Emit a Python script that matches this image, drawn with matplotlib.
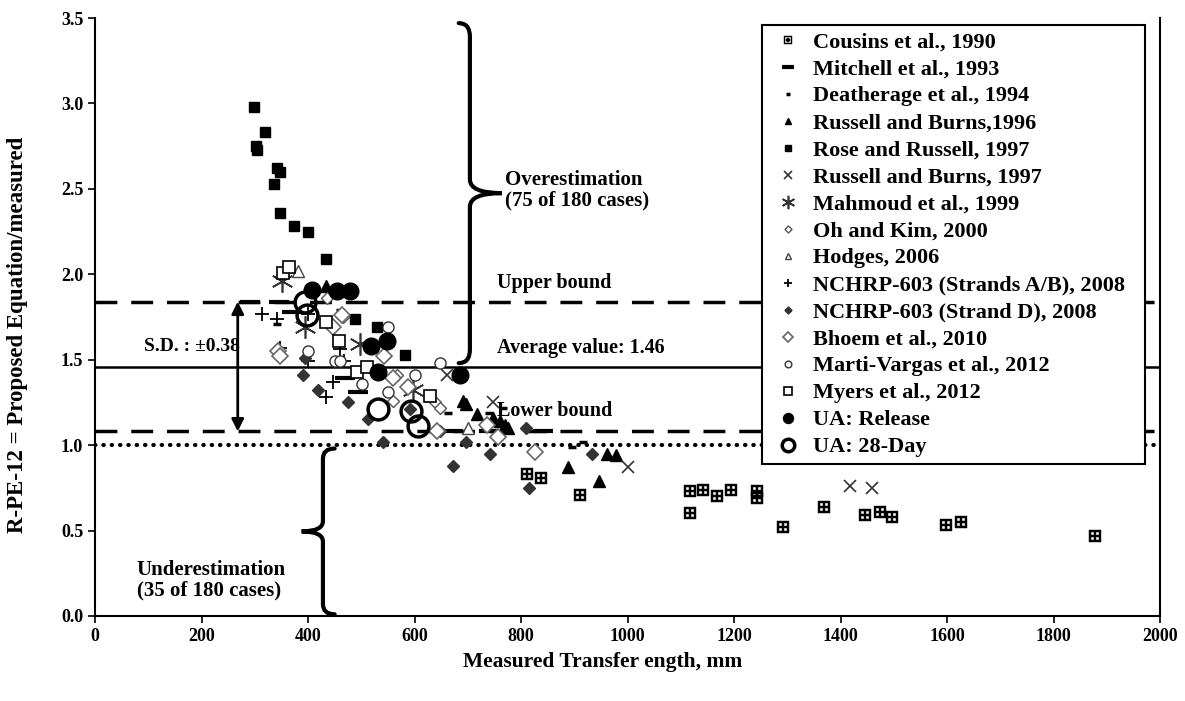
import matplotlib
matplotlib.use('Agg')
import matplotlib.pyplot as plt
from matplotlib.path import Path
from matplotlib.patches import PathPatch

plt.rcParams['font.family'] = ['Liberation Serif', 'DejaVu Serif']
plt.rcParams['font.weight'] = 'bold'

# ---- data ----
cousins_x = [811, 838, 911, 1117, 1142, 1168, 1194, 1243, 1243, 1117, 1292, 1369, 1446, 1474, 1497, 1598, 1626, 1878]
cousins_y = [0.83, 0.81, 0.71, 0.73, 0.74, 0.70, 0.74, 0.73, 0.69, 0.60, 0.52, 0.64, 0.59, 0.61, 0.58, 0.53, 0.55, 0.47]

mitchell_x = [291, 345, 370, 470, 494, 673, 740, 841]
mitchell_y = [1.84, 1.84, 1.78, 1.39, 1.31, 1.08, 1.08, 1.08]

deatherage_x = [341, 460, 600, 663, 740, 766, 896, 917]
deatherage_y = [1.71, 1.79, 1.41, 1.19, 1.19, 1.22, 0.99, 1.02]

rb1996_x = [434, 691, 697, 717, 748, 761, 770, 776, 889, 947, 961, 978]
rb1996_y = [1.93, 1.26, 1.24, 1.18, 1.16, 1.14, 1.12, 1.10, 0.87, 0.79, 0.95, 0.94]

rose_x = [299, 302, 305, 320, 336, 342, 347, 347, 374, 400, 434, 454, 475, 488, 529, 582]
rose_y = [2.98, 2.75, 2.73, 2.83, 2.53, 2.62, 2.60, 2.36, 2.28, 2.25, 2.09, 1.90, 1.90, 1.74, 1.69, 1.53]

rb1997_x = [661, 748, 1001, 1418, 1459]
rb1997_y = [1.41, 1.25, 0.87, 0.76, 0.75]

mahmoud_x = [351, 394, 498, 597]
mahmoud_y = [1.96, 1.69, 1.59, 1.32]

ohkim_x = [436, 466, 545, 567, 560, 639, 648]
ohkim_y = [1.86, 1.75, 1.52, 1.41, 1.26, 1.25, 1.22]

hodges_x = [381, 701]
hodges_y = [2.02, 1.10]

nchrp_ab_x = [313, 341, 347, 400, 400, 447, 434, 460, 467]
nchrp_ab_y = [1.77, 1.74, 1.57, 1.77, 1.49, 1.37, 1.28, 1.56, 1.49]

nchrp_d_x = [394, 391, 419, 475, 513, 541, 592, 648, 697, 673, 742, 809, 815, 933]
nchrp_d_y = [1.51, 1.41, 1.32, 1.25, 1.15, 1.02, 1.21, 1.08, 1.02, 0.88, 0.95, 1.10, 0.75, 0.95]

bhoem_x = [344, 347, 447, 464, 543, 559, 588, 642, 736, 757, 826]
bhoem_y = [1.55, 1.52, 1.69, 1.76, 1.52, 1.39, 1.34, 1.08, 1.12, 1.05, 0.96]

marti_x = [400, 450, 460, 550, 601, 648, 550, 501]
marti_y = [1.55, 1.49, 1.49, 1.69, 1.41, 1.48, 1.31, 1.36]

myers_x = [353, 364, 434, 458, 492, 511, 629]
myers_y = [2.01, 2.04, 1.72, 1.61, 1.43, 1.46, 1.29]

ua_rel_x = [407, 455, 478, 518, 548, 532, 686]
ua_rel_y = [1.91, 1.90, 1.90, 1.58, 1.61, 1.43, 1.41]

ua_28_x = [394, 398, 531, 593, 607]
ua_28_y = [1.84, 1.76, 1.21, 1.20, 1.11]

avg_value = 1.46
upper_bound = 1.84
lower_bound = 1.08

fig = plt.figure(figsize=(11.85, 7.01), dpi=100)
ax = fig.add_axes([0.0802, 0.1213, 0.8987, 0.853])

# reference lines
ax.axhline(upper_bound, color='black', lw=2.5, linestyle=(0, (6.3, 4)), zorder=1)
ax.axhline(avg_value, color='black', lw=1.8, zorder=1)
ax.axhline(lower_bound, color='black', lw=2.5, linestyle=(0, (6.3, 4)), zorder=1)
ax.axhline(1.0, color='black', lw=3, linestyle=(0, (0.1, 1.9)), dash_capstyle='round', zorder=1)

k = dict(linestyle='none', color='black')
ax.plot(cousins_x, cousins_y, marker=r'$\boxplus$', ms=9, mew=0.3, label='Cousins et al., 1990', **k)
ax.plot(mitchell_x, mitchell_y, marker='_', ms=14, mew=3, label='Mitchell et al., 1993', **k)
ax.plot(deatherage_x, deatherage_y, marker='_', ms=6, mew=2.5, label='Deatherage et al., 1994', **k)
ax.plot(rb1996_x, rb1996_y, marker='^', ms=8, label='Russell and Burns,1996', **k)
ax.plot(rose_x, rose_y, marker='s', ms=7.5, label='Rose and Russell, 1997', **k)
ax.plot(rb1997_x, rb1997_y, marker='x', ms=9, mew=1.2, color='#333333', linestyle='none',
        label='Russell and Burns, 1997')
ax.plot(mahmoud_x, mahmoud_y, marker=(6, 2, 0), ms=16, mew=1.2, color='#333333', linestyle='none',
        label='Mahmoud et al., 1999')
ax.plot(ohkim_x, ohkim_y, marker='D', ms=6, mfc='white', mec='#555555', mew=1, linestyle='none',
        label='Oh and Kim, 2000')
ax.plot(hodges_x, hodges_y, marker='^', ms=8, mfc='white', mec='#444444', mew=1, linestyle='none',
        label='Hodges, 2006')
ax.plot(nchrp_ab_x, nchrp_ab_y, marker='+', ms=10, mew=1.3, label='NCHRP-603 (Strands A/B), 2008', **k)
ax.plot(nchrp_d_x, nchrp_d_y, marker='D', ms=6, color='#333333', linestyle='none',
        label='NCHRP-603 (Strand D), 2008')
ax.plot(bhoem_x, bhoem_y, marker='D', ms=8, mfc='white', mec='#666666', mew=1.2, linestyle='none',
        label='Bhoem et al., 2010')
ax.plot(marti_x, marti_y, marker='o', ms=8, mfc='white', mec='#333333', mew=1, linestyle='none',
        label='Marti-Vargas et al., 2012')
ax.plot(myers_x, myers_y, marker='s', ms=9, mfc='white', mec='black', mew=1.2, linestyle='none',
        label='Myers et al., 2012')
ax.plot(ua_rel_x, ua_rel_y, marker='o', ms=12, label='UA: Release', **k)
ax.plot(ua_28_x, ua_28_y, marker='o', ms=15, mfc='none', mec='black', mew=2.5, linestyle='none',
        label='UA: 28-Day')


def brace(x0, y_lo, y_hi, w, r, d, curl):
    ym = (y_lo + y_hi) / 2
    verts = [(x0 - d * w * curl, y_lo), (x0, y_lo), (x0, y_lo + r),
             (x0, ym - r), (x0, ym), (x0 + d * w, ym),
             (x0, ym), (x0, ym + r),
             (x0, y_hi - r), (x0, y_hi), (x0 - d * w * curl, y_hi)]
    codes = [Path.MOVETO, Path.CURVE3, Path.CURVE3, Path.LINETO, Path.CURVE3, Path.CURVE3,
             Path.CURVE3, Path.CURVE3, Path.LINETO, Path.CURVE3, Path.CURVE3]
    ax.add_patch(PathPatch(Path(verts, codes), fill=False, lw=3, color='black',
                           capstyle='round', clip_on=False, zorder=4))


brace(704, 1.48, 3.47, 60, 0.08, 1, 0.35)
brace(428, 0.01, 0.98, 40, 0.06, -1, 0.55)

ax.annotate('', xy=(268, upper_bound), xytext=(268, lower_bound),
            arrowprops=dict(arrowstyle='<|-|>', color='black', lw=2, mutation_scale=18,
                            shrinkA=0, shrinkB=0))

ax.text(92, 1.58, 'S.D. : \u00b10.38', va='center', ha='left', fontsize=14, fontweight='bold')
ax.text(770, 2.49, 'Overestimation\n(75 of 180 cases)', va='center', ha='left', linespacing=1.05,
        fontsize=15, fontweight='bold')
ax.text(78, 0.21, 'Underestimation\n(35 of 180 cases)', va='center', ha='left', linespacing=1.05,
        fontsize=15, fontweight='bold')
tf = dict(fontsize=14.5, fontweight='bold')
ax.text(755, 1.95, 'Upper bound', va='center', ha='left', **tf)
ax.text(755, 1.57, 'Average value: 1.46', va='center', ha='left', **tf)
ax.text(755, 1.20, 'Lower bound', va='center', ha='left', **tf)

ax.set_xlim(0, 2000)
ax.set_ylim(0, 3.5)
ax.set_xticks(range(0, 2001, 200))
ax.set_yticks([i * 0.5 for i in range(8)])
ax.set_yticklabels(['%.1f' % (i * 0.5) for i in range(8)])
ax.tick_params(labelsize=13, direction='out', length=5, width=1.2)
for lab in ax.get_xticklabels() + ax.get_yticklabels():
    lab.set_fontweight('bold')
ax.spines['top'].set_visible(False)
for s in ['left', 'right', 'bottom']:
    ax.spines[s].set_linewidth(1.5)

ax.set_xlabel('Measured Transfer ength, mm', fontsize=15.5, fontweight='bold')
ax.xaxis.set_label_coords(0.477, -0.06)
ax.set_ylabel('R-PE-12 = Proposed Equation/measured', fontsize=16.5, fontweight='bold')
ax.yaxis.set_label_coords(-0.063, 0.47)

leg = ax.legend(loc='upper left', bbox_to_anchor=(0.626, 0.25, 0.36, 0.738), mode='expand',
                borderaxespad=0, fancybox=False, framealpha=1, edgecolor='black', markerscale=0.6,
                handlelength=1.8, handletextpad=0.2, labelspacing=0.29,
                prop=dict(family='Liberation Serif', weight='bold', size=16), borderpad=0.3)
leg.get_frame().set_linewidth(1.5)
leg.set_zorder(5)

fig.savefig('out.png', dpi=100)
